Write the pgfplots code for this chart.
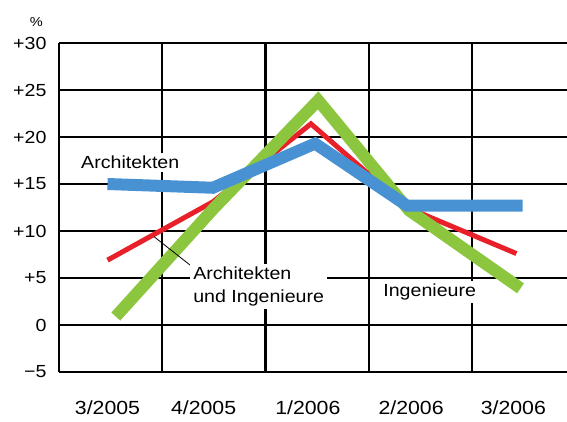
\documentclass[border=0pt]{standalone}
\usepackage{pgfplots}
\pgfplotsset{compat=1.18}
\usepackage{fontspec}
\setmainfont{Liberation Sans}[FakeStretch=1.12]
\definecolor{cblue}{RGB}{72,146,212}
\definecolor{cgreen}{RGB}{140,198,63}
\definecolor{cred}{RGB}{232,32,42}
\begin{document}
\begin{tikzpicture}
\path[use as bounding box] (-59pt,-49pt) rectangle (508pt,372pt);
\clip (-59pt,-49pt) rectangle (508pt,372pt);
\begin{axis}[
  scale only axis, width=508pt, height=329pt,
  xmin=0, xmax=4.92, ymin=-5, ymax=30,
  axis x line*=bottom, axis y line*=left,
  axis line style={-, black, line width=1.6pt},
  y axis line style={line width=2.1pt},
  xtick={0.47,1.4,2.41,3.41,4.4},
  xticklabels={3/2005,4/2005,1/2006,2/2006,3/2006},
  x tick label style={font=\fontsize{19}{21}\selectfont, yshift=-25pt},
  xmajorgrids=false, ymajorgrids=true,
  ytick={-5,0,5,10,15,20,25,30},
  yticklabels={−5,0,+5,+10,+15,+20,+25,+30},
  major tick length=0pt, minor tick length=0pt,
  major grid style={black, line width=1.6pt},
  y tick label style={font=\fontsize{17.5}{20}\selectfont, xshift=-9pt},
  clip=false,
  line cap=butt, line join=miter,
]
\draw[black, line width=2.1pt] (axis cs:1,-5) -- (axis cs:1,30)
  (axis cs:2,-5) -- (axis cs:2,30)
  (axis cs:3,-5) -- (axis cs:3,30)
  (axis cs:4,-5) -- (axis cs:4,30);
\addplot[cred, line width=5pt, line cap=butt] coordinates {(0.47,6.9) (1.49,13.1) (2.44,21.4) (3.37,12.5) (4.43,7.6)};
\addplot[cgreen, line width=12pt, line cap=butt, miter limit=10] coordinates {(0.55,0.9) (1.49,12.3) (2.51,23.9) (3.39,12.2) (4.47,3.9)};
\addplot[cblue, line width=12pt, line cap=butt] coordinates {(0.47,15.0) (1.49,14.6) (2.48,19.3) (3.37,12.7) (4.49,12.7)};
\draw[black, line width=0.8pt] (axis cs:0.92,9.4) -- (axis cs:1.29,6.2);
\node[fill=white, inner sep=3pt, font=\fontsize{17.5}{23}\selectfont] at (axis cs:0.69,17.3) {Architekten};
\node[fill=white, inner sep=3pt, anchor=west, align=left, font=\fontsize{17.5}{23}\selectfont] at (axis cs:1.27,4.1) {Architekten\\und Ingenieure};
\node[fill=white, inner sep=3pt, font=\fontsize{17.5}{23}\selectfont] at (axis cs:3.59,3.5) {Ingenieure};
\node[font=\fontsize{13}{15}\selectfont] at (axis cs:-0.22,32.2) {\%};
\end{axis}
\end{tikzpicture}
\end{document}
